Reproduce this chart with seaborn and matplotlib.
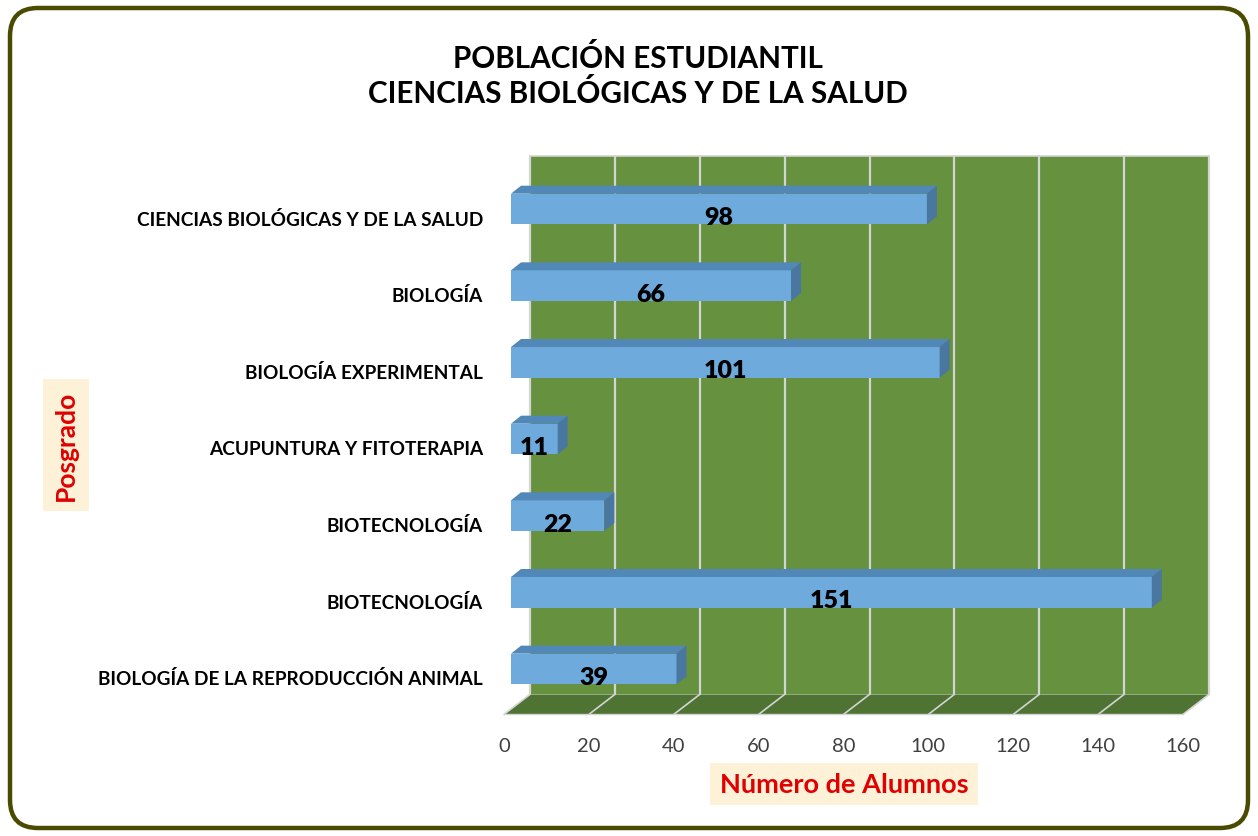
import numpy as np
import pandas as pd
import matplotlib
matplotlib.use("Agg")
import matplotlib.pyplot as plt
import seaborn as sns
from matplotlib.patches import FancyBboxPatch, Polygon
from matplotlib.transforms import ScaledTranslation, IdentityTransform
from matplotlib.lines import Line2D

# ---------------- data ----------------
programs = [
    "CIENCIAS BIOLÓGICAS Y DE LA SALUD",
    "BIOLOGÍA",
    "BIOLOGÍA EXPERIMENTAL",
    "ACUPUNTURA Y FITOTERAPIA",
    "BIOTECNOLOGÍA",
    "BIOTECNOLOGÍA",
    "BIOLOGÍA DE LA REPRODUCCIÓN ANIMAL",
]
students = [98, 66, 101, 11, 22, 151, 39]
x_ticks = [0, 20, 40, 60, 80, 100, 120, 140, 160]
title_text = "POBLACIÓN ESTUDIANTIL\nCIENCIAS BIOLÓGICAS Y DE LA SALUD"
x_label = "Número de Alumnos"
y_label = "Posgrado"

# ---------------- style ----------------
sns.set_theme(style="white")
plt.rcParams['font.family'] = ['Lato', 'DejaVu Sans']

W, H = 1258, 837
fig = plt.figure(figsize=(W / 100, H / 100), dpi=100)
fig.patch.set_facecolor("white")

WALL = "#66913F"
FLOOR = "#4E7332"
GRID = "#D4D4D4"
BAR_FRONT = "#6EAADC"
BAR_TOP = "#5288B7"
BAR_SIDE = "#4977A0"

# axes = front plane of the bars
ax = fig.add_axes([511 / W, (H - 710) / H, 679 / W, 538 / H])
df = pd.DataFrame({"pos": list(range(len(students))), "students": students})
sns.barplot(data=df, x="students", y="pos", orient="h", color=BAR_FRONT,
            saturation=1, width=0.4, ax=ax, zorder=5, edgecolor="none")
ax.set_xlim(0, 160)
ax.set_ylim(6.522, -0.496)
ax.patch.set_visible(False)
for s in ax.spines.values():
    s.set_visible(False)
ax.set_xlabel("")
ax.set_ylabel("")

fig.canvas.draw()

def disp(x, y, dx=0.0, dy=0.0):
    p = ax.transData.transform((x, y))
    return (p[0] + dx, p[1] + dy)

WDX, WDY = 19, 14.6     # back wall offset
FDX, FDY = -7, -5.4     # floor front edge offset
y_bot, y_top = ax.get_ylim()

# back wall
wall_pts = [disp(0, y_bot, WDX, WDY), disp(160, y_bot, WDX, WDY),
            disp(160, y_top, WDX, WDY), disp(0, y_top, WDX, WDY)]
ax.add_patch(Polygon(wall_pts, closed=True, facecolor=WALL, edgecolor="none",
                     transform=IdentityTransform(), clip_on=False, zorder=0))
# floor
floor_pts = [disp(0, y_bot, FDX, FDY), disp(160, y_bot, FDX, FDY),
             disp(160, y_bot, WDX, WDY), disp(0, y_bot, WDX, WDY)]
ax.add_patch(Polygon(floor_pts, closed=True, facecolor=FLOOR, edgecolor="none",
                     transform=IdentityTransform(), clip_on=False, zorder=0))

# grid lines
for t in x_ticks:
    a = disp(t, y_bot, WDX, WDY)
    b = disp(t, y_top, WDX, WDY)
    ax.add_line(Line2D([a[0], b[0]], [a[1], b[1]], color=GRID, lw=1.6,
                       transform=IdentityTransform(), clip_on=False, zorder=1))
    c = disp(t, y_bot, FDX, FDY)
    ax.add_line(Line2D([c[0], a[0]], [c[1], a[1]], color=GRID, lw=1.2,
                       transform=IdentityTransform(), clip_on=False, zorder=1))
a = disp(0, y_top, WDX, WDY)
b = disp(160, y_top, WDX, WDY)
ax.add_line(Line2D([a[0], b[0]], [a[1], b[1]], color=GRID, lw=1.2,
                   transform=IdentityTransform(), clip_on=False, zorder=1))
a = disp(0, y_bot, FDX, FDY)
b = disp(160, y_bot, FDX, FDY)
ax.add_line(Line2D([a[0], b[0]], [a[1], b[1]], color=GRID, lw=1.0,
                   transform=IdentityTransform(), clip_on=False, zorder=1))

# 3D faces of bars
BDX, BDY = 10, 8
for p in ax.containers[0]:
    x0, w = p.get_x(), p.get_width()
    y0, h = p.get_y(), p.get_height()
    d1 = disp(x0, y0)
    d2 = disp(x0 + w, y0 + h)
    xl, xr = min(d1[0], d2[0]), max(d1[0], d2[0])
    yb, yt = min(d1[1], d2[1]), max(d1[1], d2[1])
    top = [(xl, yt), (xr, yt), (xr + BDX, yt + BDY), (xl + BDX, yt + BDY)]
    side = [(xr, yb), (xr, yt), (xr + BDX, yt + BDY), (xr + BDX, yb + BDY)]
    ax.add_patch(Polygon(top, closed=True, facecolor=BAR_TOP, edgecolor="none",
                         transform=IdentityTransform(), clip_on=False, zorder=6))
    ax.add_patch(Polygon(side, closed=True, facecolor=BAR_SIDE, edgecolor="none",
                         transform=IdentityTransform(), clip_on=False, zorder=6))

# value labels
lab_tr = ax.transData + ScaledTranslation(0.0, -0.08, fig.dpi_scale_trans)
for i, v in enumerate(students):
    ax.text(v / 2, i, str(v), ha="center", va="center", fontsize=18,
            fontweight="heavy", color="black", transform=lab_tr, zorder=10)

# ticks
ax.set_xticks(x_ticks)
ax.set_xticklabels([str(t) for t in x_ticks], fontsize=14.5, color="#404040")
ax.tick_params(axis="x", length=0, pad=20)
for lbl in ax.get_xticklabels():
    lbl.set_transform(lbl.get_transform() + ScaledTranslation(-0.07, 0, fig.dpi_scale_trans))
ax.set_yticks(range(len(programs)))
ax.set_yticklabels(programs, fontsize=13.7, fontweight="bold", color="black")
ax.tick_params(axis="y", length=0, pad=20)
for lbl in ax.get_yticklabels():
    lbl.set_transform(lbl.get_transform() + ScaledTranslation(0, -0.08, fig.dpi_scale_trans))

# title
fig.text(638 / W, 1 - 76 / H, title_text, ha="center", va="center",
         fontsize=21.3, fontweight="bold", color="black", linespacing=1.25)

# axis labels
fig.text(66 / W, 1 - 446 / H, y_label, rotation=90, ha="center", va="center",
         fontsize=19, fontweight="bold", color="#E00000",
         bbox=dict(boxstyle="square,pad=0.4", facecolor="#FDF1D7", edgecolor="none"))
fig.text(844 / W, 1 - 785 / H, x_label, ha="center", va="center",
         fontsize=19.5, fontweight="bold", color="#E00000",
         bbox=dict(boxstyle="square,pad=0.35", facecolor="#FDF1D7", edgecolor="none"))

# outer rounded border
border = FancyBboxPatch((10, 8), 1238, 820, boxstyle="round,pad=0,rounding_size=28",
                        facecolor="none", edgecolor="#4A4A00", linewidth=3.2,
                        transform=IdentityTransform())
fig.patches.append(border)

fig.savefig("out.png", dpi=100)
